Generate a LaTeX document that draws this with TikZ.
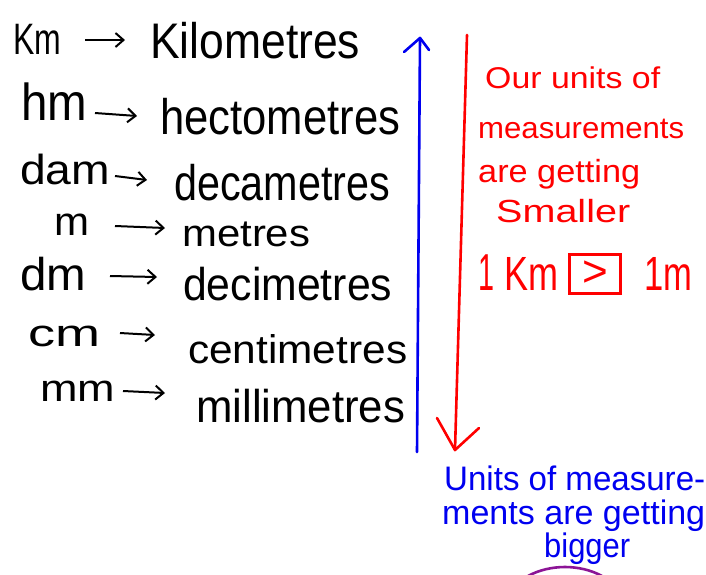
\documentclass[tikz,border=0pt]{standalone}
\usepackage{fontspec}
\usepackage{graphicx}
\setsansfont{Liberation Sans}
\usetikzlibrary{arrows.meta}
\definecolor{inkred}{RGB}{255,0,0}
\definecolor{inkblue}{RGB}{0,0,240}
\definecolor{inkpurple}{RGB}{140,20,150}
\newcommand\hwt[3]{\resizebox{#1pt}{\height}{\fontsize{#2}{#2}\selectfont #3}}
\tikzset{
  hw/.style={inner sep=0pt, anchor=base west, font=\sffamily},
  arr/.style={line width=2pt, -{Straight Barb[length=8pt,width=14pt,line width=2pt]}},
  bigarr/.style={line width=2.6pt, line cap=round}
}
\begin{document}
\begin{tikzpicture}[x=1pt,y=-1pt]
\useasboundingbox (0,0) rectangle (706,574);
\fill[white] (0,0) rectangle (706,574);
% left column
\node[hw] (km)  at (13,54)  {\hwt{48}{44}{Km}};
\node[hw] (kmf) at (150,58) {\hwt{210}{50}{Kilometres}};
\node[hw] (hm)  at (21,120) {\hwt{66}{52}{hm}};
\node[hw] (hmf) at (160,134) {\hwt{240}{50}{hectometres}};
\node[hw] (dam) at (20,184) {\hwt{90}{42}{dam}};
\node[hw] (damf) at (174,200) {\hwt{216}{50}{decametres}};
\node[hw] (m)   at (54,235) {\hwt{35}{40}{m}};
\node[hw] (mf)  at (182,246) {\hwt{128}{38}{metres}};
\node[hw] (dm)  at (20,290) {\hwt{66}{46}{dm}};
\node[hw] (dmf) at (183,300) {\hwt{209}{46}{decimetres}};
\node[hw] (cm)  at (28,346) {\hwt{72}{38}{cm}};
\node[hw] (cmf) at (188,363) {\hwt{219}{40}{centimetres}};
\node[hw] (mm)  at (40,401) {\hwt{75}{38}{mm}};
\node[hw] (mmf) at (196,422) {\hwt{209}{46}{millimetres}};
% small arrows
\coordinate (a1s) at (85,40);  \coordinate (a1e) at (125,40);
\coordinate (a2s) at (95,113); \coordinate (a2e) at (137,116);
\coordinate (a3s) at (115,176); \coordinate (a3e) at (147,180);
\coordinate (a4s) at (115,226); \coordinate (a4e) at (165,228);
\coordinate (a5s) at (110,276); \coordinate (a5e) at (157,277);
\coordinate (a6s) at (120,333); \coordinate (a6e) at (155,335);
\coordinate (a7s) at (123,391); \coordinate (a7e) at (165,393);
\foreach \i in {1,...,7} {\draw[arr] (a\i s) -- (a\i e);}
% blue up arrow
\coordinate (bb) at (417,452); \coordinate (bt) at (420,38);
\coordinate (bl) at (404,52); \coordinate (br) at (429,50);
\draw[bigarr, inkblue] (bb) -- (bt);
\draw[bigarr, inkblue, line join=round] (bl) -- (bt) -- (br);
% red down arrow
\coordinate (rt) at (467,35); \coordinate (rb) at (455,450);
\coordinate (rl) at (437,418); \coordinate (rr) at (479,428);
\draw[bigarr, inkred] (rt) -- (rb);
\draw[bigarr, inkred, line join=round] (rl) -- (rb) -- (rr);
% red text
\node[hw, text=inkred] (r1) at (485,88)  {\hwt{175}{30}{Our units of}};
\node[hw, text=inkred] (r2) at (478,138) {\hwt{206}{30}{measurements}};
\node[hw, text=inkred] (r3) at (478,182) {\hwt{162}{32}{are getting}};
\node[hw, text=inkred] (r4) at (496,222) {\hwt{134}{32}{Smaller}};
\node[hw, text=inkred] (one) at (478,290) {\hwt{16}{52}{1}};
\node[hw, text=inkred] (rkm) at (504,290) {\hwt{54}{48}{Km}};
\node[draw=inkred, line width=2.4pt, minimum width=51pt, minimum height=39pt, inner sep=0pt, text=inkred, font=\sffamily\fontsize{44}{44}\selectfont] (gt) at (595,274) {>};
\node[hw, text=inkred] (rm) at (644,290) {\hwt{48}{48}{1m}};
% blue text
\node[hw, text=inkblue] (b1) at (444,490) {\hwt{261}{34}{Units of measure-}};
\node[hw, text=inkblue] (b2) at (442,524) {\hwt{263}{34}{ments are getting}};
\node[hw, text=inkblue] (b3) at (544,557) {\hwt{86}{34}{bigger}};
% purple arc
\coordinate (ps) at (528,576); \coordinate (pe) at (602,576);
\draw[inkpurple, line width=2.6pt] (ps) .. controls (550,564) and (580,564) .. (pe);
\end{tikzpicture}
\end{document}
